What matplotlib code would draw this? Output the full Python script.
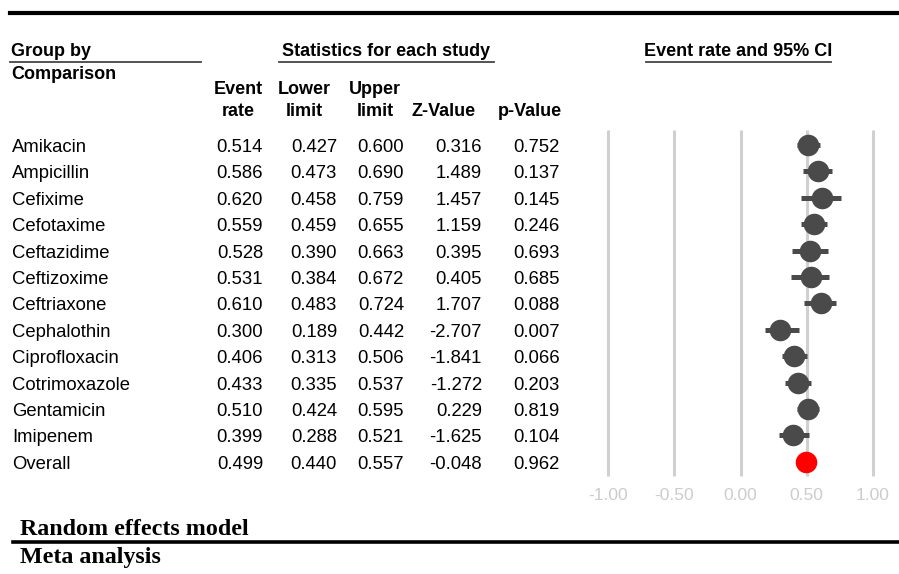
import numpy as np
import matplotlib
matplotlib.use("Agg")
import matplotlib.pyplot as plt
from matplotlib.lines import Line2D

# data
names = ["Amikacin", "Ampicillin", "Cefixime", "Cefotaxime", "Ceftazidime",
         "Ceftizoxime", "Ceftriaxone", "Cephalothin", "Ciprofloxacin",
         "Cotrimoxazole", "Gentamicin", "Imipenem", "Overall"]
event_rate = [0.514, 0.586, 0.620, 0.559, 0.528, 0.531, 0.610, 0.300, 0.406,
              0.433, 0.510, 0.399, 0.499]
lower = [0.427, 0.473, 0.458, 0.459, 0.390, 0.384, 0.483, 0.189, 0.313,
         0.335, 0.424, 0.288, 0.440]
upper = [0.600, 0.690, 0.759, 0.655, 0.663, 0.672, 0.724, 0.442, 0.506,
         0.537, 0.595, 0.521, 0.557]
z_value = [0.316, 1.489, 1.457, 1.159, 0.395, 0.405, 1.707, -2.707, -1.841,
           -1.272, 0.229, -1.625, -0.048]
p_value = [0.752, 0.137, 0.145, 0.246, 0.693, 0.685, 0.088, 0.007, 0.066,
           0.203, 0.819, 0.104, 0.962]
ticks = [-1.0, -0.5, 0.0, 0.5, 1.0]

W, H = 899, 574
fig = plt.figure(figsize=(W / 100, H / 100), dpi=100)
plt.rcParams['font.family'] = ['Liberation Sans', 'DejaVu Sans']


def fx(x):
    return x / W


def fy(y):
    return 1 - y / H


def hline(x0, x1, y, lw, color):
    fig.add_artist(Line2D([fx(x0), fx(x1)], [fy(y), fy(y)], lw=lw, color=color,
                          transform=fig.transFigure))


# rules
hline(10, 899, 12.5, 3.0, "black")
hline(10, 201, 61.5, 1.3, "#444444")
hline(279, 494, 61.5, 1.3, "#444444")
hline(646, 831, 61.5, 1.3, "#444444")
hline(13, 899, 542, 2.6, "black")

# headers
fs = 13.3
hs = 13
fig.text(fx(11), fy(56.5), "Group by", fontsize=hs, fontweight="bold", va="baseline")
fig.text(fx(11), fy(79), "Comparison", fontsize=hs, fontweight="bold", va="baseline")
fig.text(fx(386), fy(56.5), "Statistics for each study", fontsize=hs,
         fontweight="bold", va="baseline", ha="center")
fig.text(fx(738), fy(55.5), "Event rate and 95% CI", fontsize=hs,
         fontweight="bold", va="baseline", ha="center")
col_heads = [("Event", "rate", 238), ("Lower", "limit", 304),
             ("Upper", "limit", 375), ("", "Z-Value", 444), ("", "p-Value", 530)]
for top, bot, cx in col_heads:
    if top:
        fig.text(fx(cx), fy(94), top, fontsize=hs, fontweight="bold",
                 va="baseline", ha="center")
    fig.text(fx(cx), fy(116), bot, fontsize=hs, fontweight="bold",
             va="baseline", ha="center")

# table rows
base0, step = 152, 26.4
col_right = [263, 337, 404, 482, 560]
for i, nm in enumerate(names):
    y = base0 + i * step
    fig.text(fx(12), fy(y), nm, fontsize=fs, va="baseline")
    vals = [event_rate[i], lower[i], upper[i], z_value[i], p_value[i]]
    for v, xr in zip(vals, col_right):
        fig.text(fx(xr), fy(y), "%.3f" % v, fontsize=fs, va="baseline", ha="right")

# forest plot
ppu = 132.2
ax = fig.add_axes([fx(580), fy(480), (W - 580) / W, (480 - 120) / H])
n = len(names)
rows = np.arange(n)
row0 = 145
ax.set_xlim(-1 - 28.3 / ppu, 1 + 26.3 / ppu)
ax.set_ylim((480 - row0) / step, (120 - row0) / step)
ax.vlines(ticks, (130 - row0) / step, (476 - row0) / step, color="#d0d0d0",
          lw=2.2, zorder=1)
er = np.array(event_rate)
lo = np.array(lower)
up = np.array(upper)
ax.hlines(rows[:-1], lo[:-1], up[:-1], color="#4a4a4a", lw=3.6, zorder=2)
ax.plot(er[:-1], rows[:-1], "o", ms=14.5, color="#4a4a4a", zorder=3)
ax.plot(er[-1:], rows[-1:], "o", ms=14.5, color="#ff0000", zorder=3)
ax.set_xticks(ticks)
ax.set_xticklabels(["%.2f" % t for t in ticks])
ax.tick_params(axis="x", length=0, pad=6, labelsize=12.6, labelcolor="#cccccc")
ax.set_yticks([])
for s in ax.spines.values():
    s.set_visible(False)
ax.patch.set_alpha(0)

# footer
fig.text(fx(20), fy(535), "Random effects model", fontsize=17.3,
         fontweight="bold", family="Liberation Serif", va="baseline")
fig.text(fx(20), fy(563), "Meta analysis", fontsize=17.3,
         fontweight="bold", family="Liberation Serif", va="baseline")

fig.savefig("out.png", dpi=100)
